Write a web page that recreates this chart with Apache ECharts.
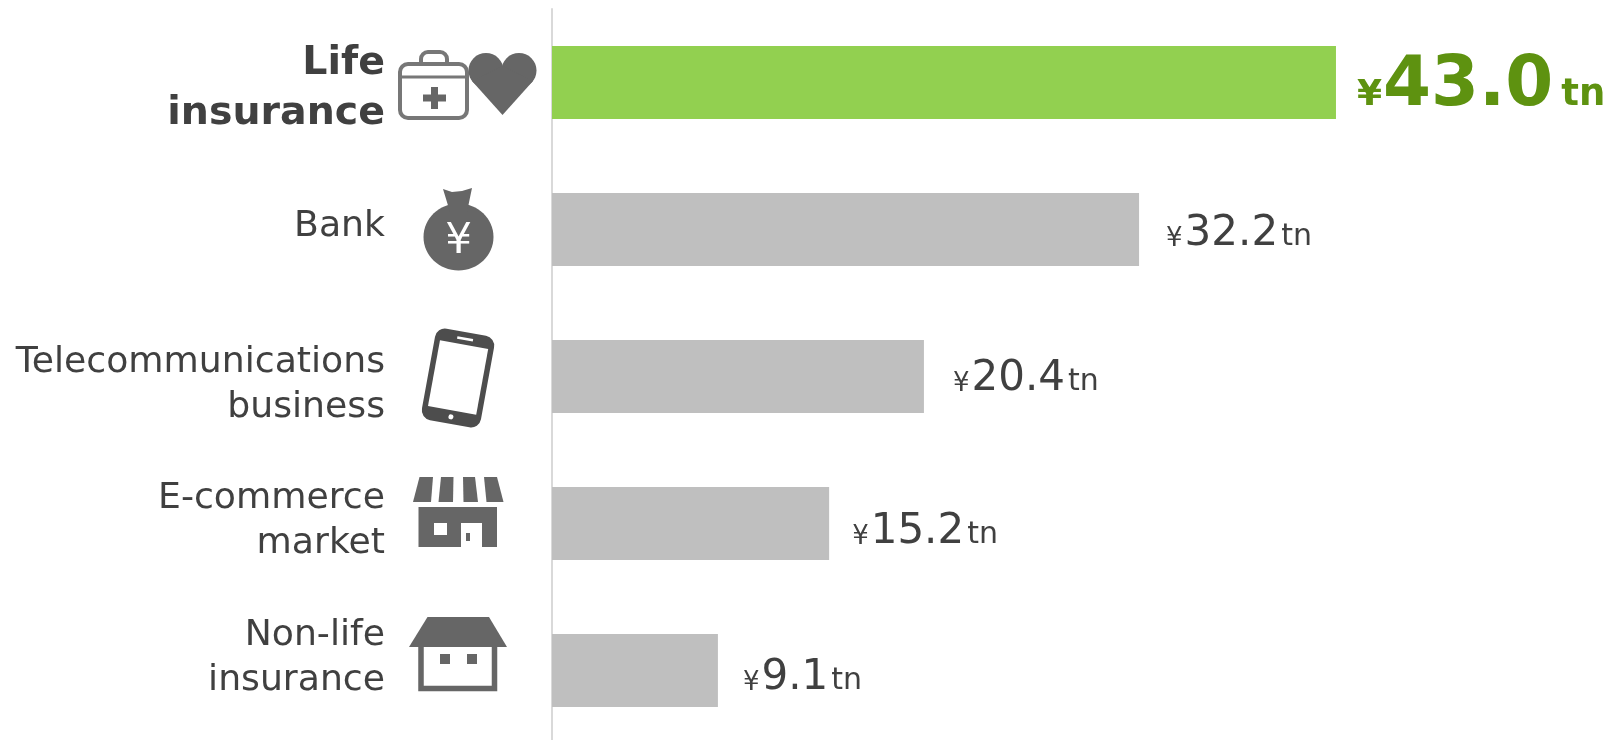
<!DOCTYPE html>
<html>
<head>
<meta charset="utf-8">
<title>Market size</title>
<script src="https://cdn.jsdelivr.net/npm/echarts@6/dist/echarts.min.js"></script>
<style>
  html, body { margin: 0; padding: 0; background: #fff; }
  #chart { width: 1612px; height: 740px; }
</style>
</head>
<body>
<div id="chart"></div>
<script>
var categories = ['Life\ninsurance', 'Bank', 'Telecommunications\nbusiness', 'E-commerce\nmarket', 'Non-life\ninsurance']
var marketValues = [43.0, 32.2, 20.4, 15.2, 9.1]
var valueLabels = ['43.0', '32.2', '20.4', '15.2', '9.1']

// hand placed nudges, the source labels do not sit on the bar centres
var categoryShift = [6, -3, 9, -2, -12.5]
var valueLabelOffset = [[3, -3], [-1, 2], [1, 0], [-5, 6], [-3, 5]]

var ICON_GREY = '#666666'
var chart = echarts.init(document.getElementById('chart'))

// pictograms between the labels and the axis
var icons = [
  // first aid case
  { type: 'rect', shape: { x: 421, y: 52, width: 26, height: 20, r: 7 }, style: { fill: '#fff', stroke: '#777', lineWidth: 4 } },
  { type: 'rect', shape: { x: 400, y: 64, width: 67, height: 54, r: 8 }, style: { fill: '#fff', stroke: '#777', lineWidth: 4 } },
  { type: 'line', shape: { x1: 400, y1: 77, x2: 467, y2: 77 }, style: { stroke: '#777', lineWidth: 3 } },
  { type: 'rect', shape: { x: 423, y: 94.5, width: 23, height: 7 }, style: { fill: ICON_GREY } },
  { type: 'rect', shape: { x: 431, y: 87, width: 7, height: 22 }, style: { fill: ICON_GREY } },
  // heart
  { type: 'circle', shape: { cx: 486, cy: 70.5, r: 17.5 }, style: { fill: ICON_GREY } },
  { type: 'circle', shape: { cx: 519, cy: 70.5, r: 17.5 }, style: { fill: ICON_GREY } },
  { type: 'polygon', shape: { points: [[472, 81], [502.5, 115], [533, 81], [502.5, 66]] }, style: { fill: ICON_GREY } },
  // money bag
  { type: 'ellipse', shape: { cx: 458.5, cy: 237, rx: 35, ry: 33.5 }, style: { fill: ICON_GREY } },
  { type: 'polygon', shape: { points: [[443, 189], [452, 192], [462, 191], [472, 188], [467, 212], [450, 212]] }, style: { fill: ICON_GREY } },
  { type: 'text', style: { x: 458.5, y: 242, text: '¥', fill: '#fff', font: '42px "DejaVu Sans"', align: 'center', verticalAlign: 'middle' } },
  // phone
  {
    type: 'group', x: 458, y: 378, rotation: -0.18,
    children: [
      { type: 'rect', shape: { x: -30, y: -46.5, width: 60, height: 93, r: 10 }, style: { fill: '#4d4d4d' } },
      { type: 'rect', shape: { x: -24.5, y: -34, width: 49, height: 67 }, style: { fill: '#fff' } },
      { type: 'rect', shape: { x: -8, y: -41, width: 16, height: 2.5 }, style: { fill: '#fff' } },
      { type: 'circle', shape: { cx: 0, cy: 39.5, r: 2.5 }, style: { fill: '#fff' } }
    ]
  },
  // shop
  { type: 'polygon', shape: { points: [[419.5, 477], [433, 477], [431, 502], [413, 502]] }, style: { fill: ICON_GREY } },
  { type: 'polygon', shape: { points: [[441, 477], [453.5, 477], [453, 502], [438.5, 502]] }, style: { fill: ICON_GREY } },
  { type: 'polygon', shape: { points: [[463, 477], [475, 477], [478, 502], [463.5, 502]] }, style: { fill: ICON_GREY } },
  { type: 'polygon', shape: { points: [[484, 477], [497, 477], [503.5, 502], [486.5, 502]] }, style: { fill: ICON_GREY } },
  { type: 'rect', shape: { x: 418.5, y: 507, width: 78.5, height: 40 }, style: { fill: ICON_GREY } },
  { type: 'rect', shape: { x: 434, y: 523, width: 13, height: 12 }, style: { fill: '#fff' } },
  { type: 'rect', shape: { x: 461, y: 523, width: 21, height: 24 }, style: { fill: '#fff' } },
  { type: 'rect', shape: { x: 466, y: 533, width: 4, height: 8 }, style: { fill: ICON_GREY } },
  // house
  { type: 'rect', shape: { x: 421, y: 640, width: 73.5, height: 48.5 }, style: { fill: '#fff', stroke: ICON_GREY, lineWidth: 5.5 } },
  { type: 'polygon', shape: { points: [[427.5, 617], [489, 617], [507, 647], [409, 647]] }, style: { fill: ICON_GREY } },
  { type: 'rect', shape: { x: 440, y: 654, width: 10, height: 10 }, style: { fill: ICON_GREY } },
  { type: 'rect', shape: { x: 467, y: 654, width: 10, height: 10 }, style: { fill: ICON_GREY } }
]

var barData = marketValues.map(function (v, i) {
  var first = i === 0
  return {
    value: v,
    itemStyle: { color: first ? '#92d050' : '#bfbfbf' },
    label: { distance: first ? 18 : 28, offset: valueLabelOffset[i] }
  }
})

// a blank spacer line above or below moves the centred label by half its height
var categoryRich = {
  norm: { fontSize: 36.2, lineHeight: 45, color: '#404040', fontFamily: 'DejaVu Sans' },
  bold: { fontSize: 39.5, lineHeight: 50, color: '#404040', fontFamily: 'DejaVu Sans', fontWeight: 'bold' }
}
categoryShift.forEach(function (d, i) {
  categoryRich['gap' + i] = { fontSize: 1, lineHeight: Math.abs(d) * 2 }
})

chart.setOption({
  animation: false,
  backgroundColor: '#fff',
  grid: { left: 552, right: 148.4, top: 9, bottom: -4, outerBoundsMode: 'none' },
  xAxis: { type: 'value', min: 0, max: 50, show: false },
  yAxis: {
    type: 'category',
    inverse: true,
    data: categories,
    axisTick: { show: false },
    axisLine: { lineStyle: { color: '#d9d9d9', width: 2 } },
    axisLabel: {
      margin: 167,
      align: 'right',
      interval: 0,
      formatter: function (name, idx) {
        var key = idx === 0 ? 'bold' : 'norm'
        var lines = name.split('\n').map(function (s) { return '{' + key + '|' + s + '}' })
        var gap = '{gap' + idx + '| }'
        if (categoryShift[idx] > 0) lines.unshift(gap)
        else lines.push(gap)
        return lines.join('\n')
      },
      rich: categoryRich
    }
  },
  graphic: { elements: icons },
  series: [{
    type: 'bar',
    barWidth: 73,
    data: barData,
    label: {
      show: true,
      position: 'right',
      formatter: function (p) {
        var k = p.dataIndex === 0 ? 'B' : 'R'
        return '{y' + k + '|¥}{n' + k + '|' + valueLabels[p.dataIndex] + '}{t' + k + '|tn}'
      },
      rich: {
        yB: { fontFamily: 'DejaVu Sans', fontWeight: 'bold', fontSize: 36, color: '#5e9210', verticalAlign: 'bottom', lineHeight: 84, padding: [0, 1, 8, 0] },
        nB: { fontFamily: 'DejaVu Sans', fontWeight: 'bold', fontSize: 69, color: '#5e9210', verticalAlign: 'bottom', lineHeight: 84 },
        tB: { fontFamily: 'DejaVu Sans', fontWeight: 'bold', fontSize: 37, color: '#5e9210', verticalAlign: 'bottom', lineHeight: 84, padding: [0, 0, 8, 8] },
        yR: { fontFamily: 'DejaVu Sans', fontSize: 26, color: '#404040', verticalAlign: 'bottom', lineHeight: 48, padding: [0, 2, 3, 0] },
        nR: { fontFamily: 'DejaVu Sans', fontSize: 42, color: '#404040', verticalAlign: 'bottom', lineHeight: 48 },
        tR: { fontFamily: 'DejaVu Sans', fontSize: 30, color: '#404040', verticalAlign: 'bottom', lineHeight: 48, padding: [0, 0, 3, 3] }
      }
    }
  }]
})
</script>
</body>
</html>
